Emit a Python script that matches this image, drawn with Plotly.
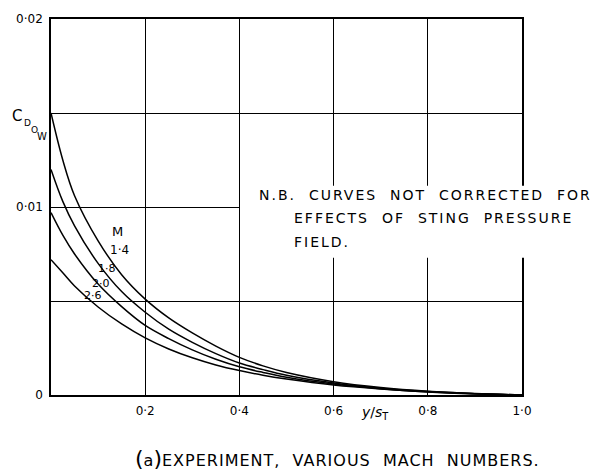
import plotly.graph_objects as go

# ---- data ----
x_vals = [0, 0.025, 0.05, 0.1, 0.15, 0.2, 0.25, 0.3, 0.35, 0.4, 0.45, 0.5, 0.6, 0.7, 0.8, 0.9, 1.0]
cd_m14 = [0.0150, 0.0125, 0.0106, 0.0082, 0.0064, 0.0051, 0.0041, 0.0033, 0.0026, 0.0020, 0.00155, 0.0012, 0.00071, 0.0004, 0.0002, 0.00008, 0.0]
cd_m18 = [0.0120, 0.0103, 0.0090, 0.0070, 0.0055, 0.0044, 0.0035, 0.0028, 0.0022, 0.0017, 0.00135, 0.00105, 0.00064, 0.00036, 0.00018, 0.00007, 0.0]
cd_m20 = [0.0097, 0.0085, 0.0075, 0.0059, 0.0047, 0.0037, 0.0030, 0.0024, 0.0019, 0.0015, 0.0012, 0.00094, 0.00058, 0.00033, 0.00016, 0.00006, 0.0]
cd_m26 = [0.0072, 0.0065, 0.0058, 0.00468, 0.00378, 0.00304, 0.00245, 0.00198, 0.0016, 0.0013, 0.00105, 0.00085, 0.00053, 0.00032, 0.00017, 0.00007, 0.0]
series = [("1·4", cd_m14), ("1·8", cd_m18), ("2·0", cd_m20), ("2·6", cd_m26)]

x_tickvals = [0.2, 0.4, 0.6, 0.8, 1.0]
x_ticktext = ["0·2", "0·4", "0·6", "0·8", "1·0"]
y_tickvals = [0, 0.01, 0.02]
y_ticktext = ["0", "0·01", "0·02"]

FONT = "DejaVu Sans"

fig = go.Figure()
for name, ys in series:
    fig.add_trace(go.Scatter(x=x_vals, y=ys, mode="lines", name=name,
                             line=dict(color="black", width=1.5, shape="spline", smoothing=1.0),
                             showlegend=False, hoverinfo="skip"))

L, R, T, B = 51, 77, 14, 80
W, H = 599, 475
pw, ph = W - L - R, H - T - B

def px(xp):
    return (xp - L) / pw

def py(yp):
    return (H - B - yp) / ph

fig.update_layout(
    width=W, height=H,
    margin=dict(l=L, r=R, t=T, b=B),
    paper_bgcolor="white", plot_bgcolor="white",
    font=dict(family=FONT, color="black", size=12),
    xaxis=dict(range=[0, 1], tickvals=x_tickvals, ticktext=x_ticktext,
               showgrid=True, gridcolor="black", gridwidth=1.2,
               showline=True, linecolor="black", linewidth=1.6, mirror=True,
               zeroline=False, ticks="", ticklabelstandoff=4,
               tickfont=dict(size=12, family=FONT)),
    yaxis=dict(range=[0, 0.02], tickvals=y_tickvals, ticktext=y_ticktext,
               showgrid=True, gridcolor="black", gridwidth=1.2,
               minor=dict(dtick=0.005, tick0=0, showgrid=True, gridcolor="black", gridwidth=1.2, ticks=""),
               showline=True, linecolor="black", linewidth=1.6, mirror=True,
               zeroline=False, ticks="", ticklabelstandoff=4,
               tickfont=dict(size=12, family=FONT)),
)

# white box behind the note
fig.add_shape(type="rect", xref="paper", yref="paper",
              x0=px(240), x1=px(599), y0=py(256), y1=py(183),
              fillcolor="white", line=dict(width=0), layer="above")

ann = []
def add(text, xp, yp, size=12, xanchor="center", yanchor="middle"):
    ann.append(dict(text=text, xref="paper", yref="paper", x=px(xp), y=py(yp),
                    xanchor=xanchor, yanchor=yanchor, showarrow=False,
                    font=dict(family=FONT, size=size, color="black")))

def spaced(t, ls):
    return f"<span style='letter-spacing:{ls}px'>{t}</span>"

add(spaced("N.B.  CURVES  NOT  CORRECTED  FOR", 2), 257, 192, 14, "left")
add(spaced("EFFECTS  OF  STING  PRESSURE", 2), 292, 216, 14, "left")
add(spaced("FIELD.", 2), 292, 240, 14, "left")

# y-axis label C_DOW
add("C", 17, 112, 15)
add("D", 27, 119, 9)
add("O", 34, 126, 9)
add("W", 42, 133, 10)

# x-axis label
add("<i>y</i>/<i>s</i><sub>T</sub>", 375, 413, 14)

# curve labels
add("M", 117, 229, 13)
add("1·4", 119, 248, 12)
add("1·8", 107, 267, 11)
add("2·0", 101, 282, 11)
add("2·6", 93, 294, 11)

# caption
ann.append(dict(text="<span style='font-size:22px'>(</span>a<span style='font-size:22px'>)</span>"
                     + spaced("EXPERIMENT,  VARIOUS  MACH  NUMBERS.", 1),
                xref="paper", yref="paper", x=px(133), y=py(459), xanchor="left", yanchor="middle",
                showarrow=False, font=dict(family=FONT, size=16, color="black")))

fig.update_layout(annotations=ann)
fig.write_html("out.html")
